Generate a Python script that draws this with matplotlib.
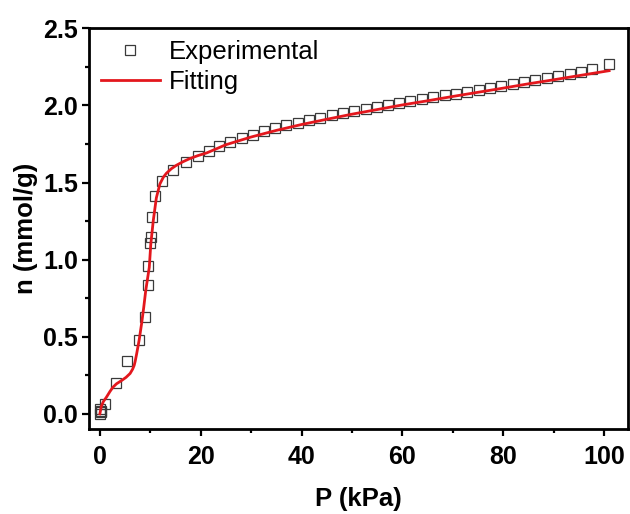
import numpy as np
import matplotlib
matplotlib.use('Agg')
import matplotlib.pyplot as plt
from matplotlib.ticker import MultipleLocator

plt.rcParams['font.family'] = ['Liberation Sans', 'DejaVu Sans']

# experimental isotherm points
exp_p = [0.0, 0.15, 0.3, 0.1, 1.1, 3.2, 5.45, 7.7, 9.0, 9.45, 9.6, 9.95, 10.05, 10.3, 10.95,
         12.4, 14.6, 17.1, 19.4, 21.6, 23.7, 25.9, 28.1, 30.4, 32.6, 34.8, 37.0, 39.2,
         41.5, 43.7, 46.0, 48.2, 50.4, 52.7, 54.9, 57.2, 59.4, 61.6, 63.9, 66.1, 68.4,
         70.6, 72.9, 75.1, 77.3, 79.6, 81.9, 84.1, 86.3, 88.6, 90.9, 93.2, 95.4, 97.6, 100.9]
exp_n = [0.0, 0.01, 0.02, 0.03, 0.067, 0.2, 0.34, 0.482, 0.625, 0.833, 0.958, 1.105, 1.145,
         1.277, 1.41, 1.51, 1.582, 1.636, 1.673, 1.706, 1.736, 1.762, 1.786, 1.81, 1.833,
         1.853, 1.87, 1.887, 1.905, 1.92, 1.935, 1.948, 1.963, 1.976, 1.989, 2.002, 2.015,
         2.028, 2.041, 2.052, 2.065, 2.076, 2.089, 2.102, 2.115, 2.126, 2.141, 2.154,
         2.165, 2.178, 2.19, 2.205, 2.219, 2.236, 2.266]

# fitted curve
fit_p = [0.0, 0.3, 0.7, 1.3, 2.0, 2.6, 3.3, 4.3, 5.2, 6.0, 6.5, 6.8, 7.0, 7.3, 7.8, 8.3,
         8.7, 9.1, 9.8, 10.1, 10.6, 11.2, 11.9, 12.6, 13.2, 14.2, 15.2, 16.5, 17.9, 19.5,
         21.2, 25, 30, 35, 40, 45, 50, 55, 60, 65, 70, 75, 80, 85, 90, 95, 101]
fit_n = [0.0, 0.05, 0.08, 0.108, 0.145, 0.173, 0.195, 0.216, 0.237, 0.262, 0.29, 0.314,
         0.34, 0.39, 0.48, 0.59, 0.69, 0.80, 0.95, 1.10, 1.255, 1.40, 1.49, 1.535, 1.56,
         1.59, 1.612, 1.635, 1.656, 1.675, 1.692, 1.745, 1.795, 1.838, 1.876, 1.91, 1.943,
         1.973, 2.003, 2.03, 2.058, 2.085, 2.112, 2.14, 2.166, 2.193, 2.225]

fig = plt.figure(figsize=(6.3, 5.14), dpi=100)
ax = fig.add_axes([0.1417, 0.1648, 0.9973 - 0.1417, 0.945 - 0.1648])

ax.plot(exp_p, exp_n, 's', mfc='none', mec='#3a3a3a', ms=7.8, mew=0.9,
        label='Experimental', zorder=2)
ax.plot(fit_p, fit_n, '-', color='#e3171d', lw=2.0, label='Fitting', zorder=3)

ax.set_xlim(-2.1, 104.8)
ax.set_ylim(-0.1, 2.5)
ax.xaxis.set_major_locator(MultipleLocator(20))
ax.xaxis.set_minor_locator(MultipleLocator(10))
ax.yaxis.set_major_locator(MultipleLocator(0.5))
ax.yaxis.set_minor_locator(MultipleLocator(0.25))
ax.yaxis.set_major_formatter(matplotlib.ticker.FormatStrFormatter('%.1f'))

for s in ax.spines.values():
    s.set_linewidth(2.0)
ax.tick_params(which='both', direction='out', top=False, right=False, width=1.6)
ax.tick_params(which='major', length=5, labelsize=18)
ax.tick_params(which='minor', length=3)
ax.tick_params(axis='x', pad=6)
ax.tick_params(axis='y', pad=3)
for lab in ax.get_xticklabels() + ax.get_yticklabels():
    lab.set_fontweight('bold')

ax.set_xlabel('P (kPa)', fontsize=18.5, fontweight='bold', labelpad=13)
ax.set_ylabel('n (mmol/g)', fontsize=18.5, fontweight='bold', labelpad=4)

ax.legend(loc='upper left', frameon=False, fontsize=18.5, handlelength=2.3,
          handletextpad=0.35, labelspacing=0.25, borderpad=0, borderaxespad=0.45,
          numpoints=1)

fig.savefig('out.png', dpi=100)
